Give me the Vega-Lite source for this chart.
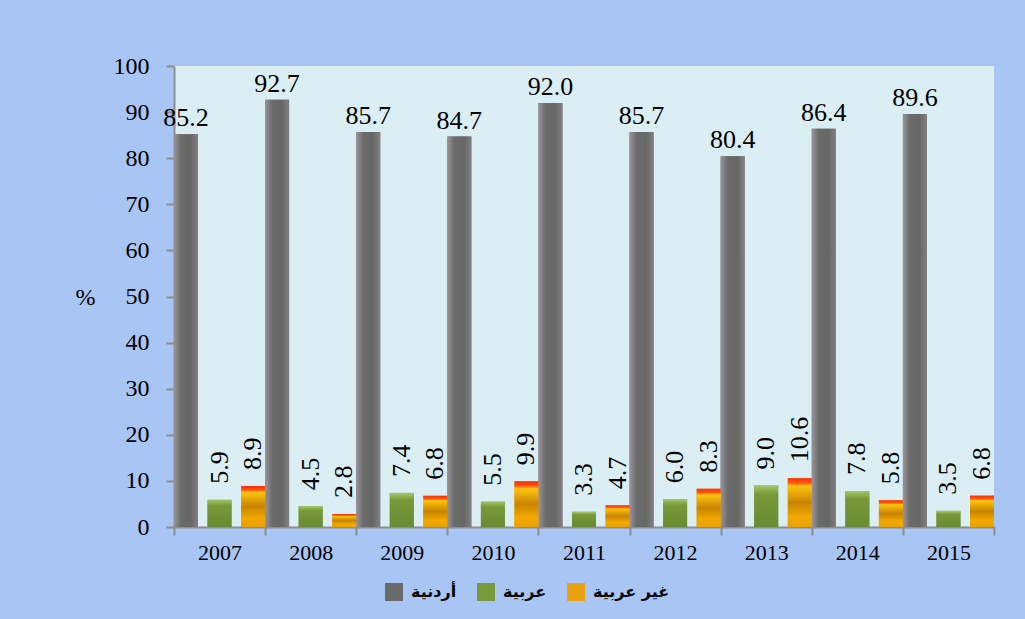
{
  "$schema": "https://vega.github.io/schema/vega-lite/v6.json",
  "width": 820,
  "height": 461,
  "autosize": {"type": "none"},
  "padding": {"left": 174, "top": 66, "right": 31, "bottom": 92},
  "background": "#a8c5f4",
  "config": {
    "view": {"fill": "#daeef4", "stroke": null},
    "font": "Liberation Serif"
  },
  "data": {
    "values": [
      {"year": "2007", "series": "أردنية", "value": 85.2},
      {"year": "2007", "series": "عربية", "value": 5.9},
      {"year": "2007", "series": "غير عربية", "value": 8.9},
      {"year": "2008", "series": "أردنية", "value": 92.7},
      {"year": "2008", "series": "عربية", "value": 4.5},
      {"year": "2008", "series": "غير عربية", "value": 2.8},
      {"year": "2009", "series": "أردنية", "value": 85.7},
      {"year": "2009", "series": "عربية", "value": 7.4},
      {"year": "2009", "series": "غير عربية", "value": 6.8},
      {"year": "2010", "series": "أردنية", "value": 84.7},
      {"year": "2010", "series": "عربية", "value": 5.5},
      {"year": "2010", "series": "غير عربية", "value": 9.9},
      {"year": "2011", "series": "أردنية", "value": 92.0},
      {"year": "2011", "series": "عربية", "value": 3.3},
      {"year": "2011", "series": "غير عربية", "value": 4.7},
      {"year": "2012", "series": "أردنية", "value": 85.7},
      {"year": "2012", "series": "عربية", "value": 6.0},
      {"year": "2012", "series": "غير عربية", "value": 8.3},
      {"year": "2013", "series": "أردنية", "value": 80.4},
      {"year": "2013", "series": "عربية", "value": 9.0},
      {"year": "2013", "series": "غير عربية", "value": 10.6},
      {"year": "2014", "series": "أردنية", "value": 86.4},
      {"year": "2014", "series": "عربية", "value": 7.8},
      {"year": "2014", "series": "غير عربية", "value": 5.8},
      {"year": "2015", "series": "أردنية", "value": 89.6},
      {"year": "2015", "series": "عربية", "value": 3.5},
      {"year": "2015", "series": "غير عربية", "value": 6.8}
    ]
  },
  "encoding": {
    "x": {
      "field": "year",
      "type": "ordinal",
      "scale": {"paddingInner": 0, "paddingOuter": 0},
      "axis": {
        "title": null,
        "labelAngle": 0,
        "labelFont": "Liberation Serif",
        "labelFontSize": 22,
        "labelColor": "#000000",
        "labelPadding": 7,
        "tickBand": "extent",
        "tickSize": 8,
        "tickWidth": 2,
        "tickColor": "#8e8e8e",
        "domainColor": "#8e8e8e",
        "domainWidth": 2
      }
    },
    "xOffset": {
      "field": "series",
      "type": "nominal",
      "scale": {"domain": ["أردنية", "عربية", "غير عربية"], "paddingInner": 0.285, "paddingOuter": 0}
    },
    "y": {
      "field": "value",
      "type": "quantitative",
      "scale": {"domain": [0, 100], "nice": false},
      "axis": {
        "values": [0, 10, 20, 30, 40, 50, 60, 70, 80, 90, 100],
        "grid": false,
        "title": "%",
        "titleAngle": 0,
        "titleFont": "Liberation Serif",
        "titleFontSize": 24,
        "titleFontWeight": "normal",
        "titleColor": "#000000",
        "titleX": -89,
        "titleY": 231,
        "titleAlign": "center",
        "titleBaseline": "middle",
        "labelFont": "Liberation Serif",
        "labelFontSize": 24,
        "labelColor": "#000000",
        "labelPadding": 17,
        "tickSize": 8,
        "tickWidth": 2,
        "tickColor": "#8e8e8e",
        "domainColor": "#8e8e8e",
        "domainWidth": 2
      }
    }
  },
  "layer": [
    {
      "mark": {"type": "bar"},
      "encoding": {
        "color": {
          "field": "series",
          "type": "nominal",
          "scale": {"domain": ["أردنية", "عربية", "غير عربية"], "range": ["#6a696b", "#789a3a", "#e6a010"]},
          "legend": {
            "title": null,
            "orient": "none",
            "direction": "horizontal",
            "legendX": 211,
            "legendY": 517,
            "symbolType": "square",
            "symbolSize": 324,
            "symbolStrokeWidth": 0,
            "labelFont": "DejaVu Sans",
            "labelFontWeight": "bold",
            "labelFontSize": 16,
            "labelColor": "#000000",
            "labelOffset": 8,
            "columnPadding": 20,
            "padding": 0
          }
        }
      }
    },
    {
      "transform": [{"filter": "datum.series === 'أردنية'"}],
      "mark": {
        "type": "bar",
        "color": {
          "gradient": "linear", "x1": 0, "x2": 1, "y1": 0, "y2": 0,
          "stops": [
            {"offset": 0, "color": "#9a949a"},
            {"offset": 0.3, "color": "#6a6b6a"},
            {"offset": 0.7, "color": "#666866"},
            {"offset": 1, "color": "#847e82"}
          ]
        }
      }
    },
    {
      "transform": [{"filter": "datum.series === 'عربية'"}],
      "mark": {
        "type": "bar",
        "color": {
          "gradient": "linear", "x1": 0, "x2": 0, "y1": 0, "y2": 1,
          "stops": [
            {"offset": 0, "color": "#a8c870"},
            {"offset": 0.1, "color": "#8fb050"},
            {"offset": 0.22, "color": "#789838"},
            {"offset": 1, "color": "#6a8a34"}
          ]
        }
      }
    },
    {
      "transform": [{"filter": "datum.series === 'غير عربية'"}],
      "mark": {
        "type": "bar",
        "color": {
          "gradient": "linear", "x1": 0, "x2": 0, "y1": 0, "y2": 1,
          "stops": [
            {"offset": 0, "color": "#ff2a10"},
            {"offset": 0.1, "color": "#ff5a10"},
            {"offset": 0.16, "color": "#ffc410"},
            {"offset": 0.5, "color": "#c88400"},
            {"offset": 0.8, "color": "#f2aa00"},
            {"offset": 1, "color": "#e8a000"}
          ]
        }
      }
    },
    {
      "transform": [{"filter": "datum.series === 'أردنية'"}],
      "mark": {"type": "text", "baseline": "bottom", "align": "center", "dy": -3, "fontSize": 26, "font": "Liberation Serif", "color": "#000000"},
      "encoding": {"text": {"field": "value", "type": "quantitative", "format": ".1f"}}
    },
    {
      "transform": [{"filter": "datum.series !== 'أردنية'"}],
      "mark": {"type": "text", "angle": 270, "baseline": "middle", "align": "left", "dx": 16, "fontSize": 26, "font": "Liberation Serif", "color": "#000000"},
      "encoding": {"text": {"field": "value", "type": "quantitative", "format": ".1f"}}
    }
  ]
}
